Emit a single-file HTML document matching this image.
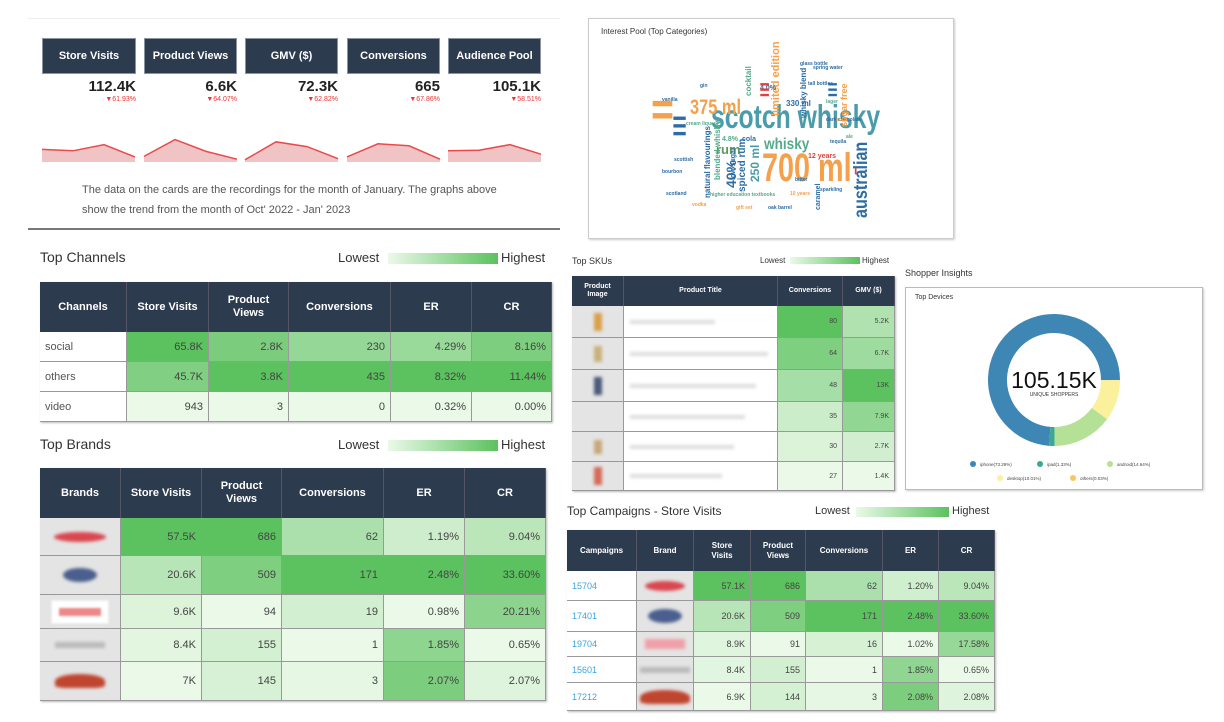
<!DOCTYPE html>
<html><head><meta charset="utf-8">
<style>
body{margin:0;width:1224px;height:722px;background:#fff;position:relative;overflow:hidden;font-family:"Liberation Sans",sans-serif;color:#333}
.a{position:absolute}
.card{position:absolute;background:#2c3b4e;color:#fff;font-weight:bold;font-size:11px;display:flex;align-items:center;justify-content:center;border:1px solid #8a94a0;box-sizing:border-box}
.val{position:absolute;font-weight:bold;font-size:15px;color:#222;text-align:right}
.pct{position:absolute;font-size:7px;color:#e33;text-align:right}
.ttl{position:absolute;color:#333}
.cell{position:absolute;box-sizing:border-box;display:flex;align-items:center;overflow:hidden}
.hd{background:#2c3b4e;color:#fff;font-weight:bold;justify-content:center;text-align:center;border-right:1px solid #556;line-height:1.15}
.bd{border-right:1px solid #999;border-bottom:1px solid #999;justify-content:flex-end;padding-right:5px;color:#444}
.grad{position:absolute;background:linear-gradient(to right,#eaf9e8,#5cc15f)}
.w{position:absolute;font-weight:bold;white-space:nowrap;transform-origin:0 0;line-height:1}
</style></head><body>

<div class="a" style="left:28px;top:18px;width:532px;height:1px;background:#eee"></div>
<div class="card" style="left:42px;top:38px;width:94px;height:36px">Store Visits</div>
<div class="card" style="left:144px;top:38px;width:93px;height:36px">Product Views</div>
<div class="card" style="left:245px;top:38px;width:93px;height:36px">GMV ($)</div>
<div class="card" style="left:347px;top:38px;width:93px;height:36px">Conversions</div>
<div class="card" style="left:448px;top:38px;width:93px;height:36px">Audience Pool</div>

<div class="val" style="left:42px;top:78px;width:94px">112.4K</div>
<div class="val" style="left:144px;top:78px;width:93px">6.6K</div>
<div class="val" style="left:245px;top:78px;width:93px">72.3K</div>
<div class="val" style="left:347px;top:78px;width:93px">665</div>
<div class="val" style="left:448px;top:78px;width:93px">105.1K</div>
<div class="pct" style="left:42px;top:96px;width:94px">▼61.93%</div>
<div class="pct" style="left:144px;top:96px;width:93px">▼64.07%</div>
<div class="pct" style="left:245px;top:96px;width:93px">▼62.82%</div>
<div class="pct" style="left:347px;top:96px;width:93px">▼67.86%</div>
<div class="pct" style="left:448px;top:96px;width:93px">▼58.51%</div>

<svg class="a" id="spark" style="left:0;top:0" width="560" height="170"></svg>

<div class="a" style="left:82px;top:180px;width:440px;font-size:11px;line-height:20px;color:#555">The data on the cards are the recordings for the month of January. The graphs above show the trend from the month of Oct' 2022 - Jan' 2023</div>
<div class="a" style="left:28px;top:228px;width:532px;height:2px;background:#777"></div>

<!-- Top Channels -->
<div class="ttl" style="left:40px;top:249px;font-size:14px">Top Channels</div>
<div class="ttl" style="left:338px;top:250px;font-size:13px">Lowest</div>
<div class="grad" style="left:388px;top:253px;width:110px;height:11px"></div>
<div class="ttl" style="left:501px;top:250px;font-size:13px">Highest</div>

<div class="ttl" style="left:40px;top:436px;font-size:14px">Top Brands</div>
<div class="ttl" style="left:338px;top:437px;font-size:13px">Lowest</div>
<div class="grad" style="left:388px;top:440px;width:110px;height:11px"></div>
<div class="ttl" style="left:501px;top:437px;font-size:13px">Highest</div>

<!-- Word cloud -->
<div class="a" style="left:588px;top:18px;width:366px;height:221px;border:1px solid #ccc;box-sizing:border-box;box-shadow:1px 1px 2px #ccc"></div>
<div class="ttl" style="left:601px;top:27px;font-size:8px">Interest Pool (Top Categories)</div>
<div id="cloud">
<div class="w" style="left:711px;top:100px;font-size:33px;color:#4a9cab;transform:scaleX(.75)">scotch whisky</div>
<div class="w" style="left:762px;top:148px;font-size:40px;color:#f5a04a;transform:scaleX(.72)">700 ml</div>
<div class="w" style="left:690px;top:97px;font-size:21px;color:#f5a04a;transform:scaleX(.78)">375 ml</div>
<div class="w" style="left:764px;top:137px;font-size:16px;color:#55aa8c;transform:scaleX(.85)">whisky</div>
<div class="w" style="left:716px;top:143px;font-size:13px;color:#5a9a5e">rum</div>
<div class="w" style="left:852px;top:218px;font-size:19px;color:#2d6da3;transform:rotate(-90deg) scaleX(.85)">australian</div>
<div class="w" style="left:771px;top:116px;font-size:11px;color:#f5a04a;transform:rotate(-90deg)">limited edition</div>
<div class="w" style="left:724px;top:188px;font-size:14px;color:#2d6da3;transform:rotate(-90deg)">40%</div>
<div class="w" style="left:749px;top:182px;font-size:12px;color:#4a9cab;transform:rotate(-90deg)">250 ml</div>
<div class="w" style="left:738px;top:192px;font-size:10px;color:#2d6da3;transform:rotate(-90deg)">spiced rum</div>
<div class="w" style="left:704px;top:198px;font-size:8px;color:#2d6da3;transform:rotate(-90deg)">natural flavourings</div>
<div class="w" style="left:714px;top:180px;font-size:8px;color:#55aa8c;transform:rotate(-90deg)">blended whisky</div>
<div class="w" style="left:730px;top:180px;font-size:7px;color:#2d6da3;transform:rotate(-90deg)">low sugar</div>
<div class="w" style="left:786px;top:100px;font-size:8px;color:#2d6da3">330 ml</div>
<div class="w" style="left:808px;top:153px;font-size:7px;color:#e04040">12 years</div>
<div class="w" style="left:722px;top:136px;font-size:7px;color:#55aa8c">4.8%</div>
<div class="w" style="left:742px;top:136px;font-size:7px;color:#2d6da3">cola</div>
<div class="w" style="left:760px;top:85px;font-size:7px;color:#2d6da3">4.0%</div>
<div class="w" style="left:710px;top:193px;font-size:5px;color:#55aa8c">higher education textbooks</div>
<div class="w" style="left:686px;top:122px;font-size:5px;color:#55aa8c">cream liqueur</div>
<div class="w" style="left:662px;top:98px;font-size:5px;color:#2d6da3">vanilla</div>
<div class="w" style="left:666px;top:192px;font-size:5px;color:#2d6da3">scotland</div>
<div class="w" style="left:674px;top:158px;font-size:5px;color:#2d6da3">scottish</div>
<div class="w" style="left:826px;top:118px;font-size:5px;color:#2d6da3">dark chocolate</div>
<div class="w" style="left:836px;top:118px;font-size:5px;color:#f5a04a">soda</div>
<div class="w" style="left:820px;top:188px;font-size:5px;color:#2d6da3">sparkling</div>
<div class="w" style="left:795px;top:178px;font-size:5px;color:#2d6da3">bitter</div>
<div class="w" style="left:736px;top:206px;font-size:5px;color:#f5a04a">gift set</div>
<div class="w" style="left:768px;top:206px;font-size:5px;color:#2d6da3">oak barrel</div>
<div class="w" style="left:800px;top:62px;font-size:5px;color:#2d6da3">glass bottle</div>
<div class="w" style="left:830px;top:140px;font-size:5px;color:#2d6da3">tequila</div>
<div class="w" style="left:790px;top:192px;font-size:5px;color:#f5a04a">10 years</div>
<div class="w" style="left:700px;top:84px;font-size:5px;color:#2d6da3">gin</div>
<div class="w" style="left:846px;top:135px;font-size:5px;color:#55aa8c">ale</div>
<div class="w" style="left:826px;top:100px;font-size:5px;color:#55aa8c">lager</div>
<div class="w" style="left:662px;top:170px;font-size:5px;color:#2d6da3">bourbon</div>
<div class="w" style="left:692px;top:203px;font-size:5px;color:#f5a04a">vodka</div>
<div class="w" style="left:813px;top:66px;font-size:5px;color:#2d6da3">spring water</div>
<div class="w" style="left:808px;top:82px;font-size:5px;color:#2d6da3">tall bottles</div>
<div class="w" style="left:855px;top:170px;font-size:5px;color:#e04040">▍</div>
<div class="w" style="left:656px;top:118px;font-size:16px;color:#f5a04a;transform:rotate(-90deg)">▍▍</div>
<div class="w" style="left:676px;top:135px;font-size:10px;color:#2d6da3;transform:rotate(-90deg)">▍▍▍</div>
<div class="w" style="left:840px;top:127px;font-size:9px;color:#f5a04a;transform:rotate(-90deg)">sugar free</div>
<div class="w" style="left:800px;top:118px;font-size:8px;color:#2d6da3;transform:rotate(-90deg)">whisky blend</div>
<div class="w" style="left:815px;top:210px;font-size:7px;color:#2d6da3;transform:rotate(-90deg)">caramel</div>
<div class="w" style="left:762px;top:96px;font-size:7px;color:#e04040;transform:rotate(-90deg)">▍▍▍</div>
<div class="w" style="left:745px;top:96px;font-size:8px;color:#55aa8c;transform:rotate(-90deg)">cocktail</div>
<div class="w" style="left:830px;top:96px;font-size:7px;color:#2d6da3;transform:rotate(-90deg)">▍▍▍</div>
</div>

<!-- Top SKUs -->
<div class="ttl" style="left:572px;top:256px;font-size:9px">Top SKUs</div>
<div class="ttl" style="left:760px;top:256px;font-size:8px">Lowest</div>
<div class="grad" style="left:790px;top:257px;width:70px;height:7px"></div>
<div class="ttl" style="left:862px;top:256px;font-size:8px">Highest</div>

<!-- Shopper insights -->
<div class="ttl" style="left:905px;top:268px;font-size:9px">Shopper Insights</div>
<div class="a" style="left:905px;top:287px;width:298px;height:203px;border:1px solid #bbb;box-sizing:border-box;box-shadow:1px 1px 2px #ccc"></div>
<div class="ttl" style="left:915px;top:294px;font-size:7px">Top Devices</div>
<svg class="a" id="donut" style="left:905px;top:287px" width="298" height="203"></svg>

<!-- Campaigns -->
<div class="ttl" style="left:567px;top:504px;font-size:12px">Top Campaigns - Store Visits</div>
<div class="ttl" style="left:815px;top:505px;font-size:11px">Lowest</div>
<div class="grad" style="left:856px;top:507px;width:93px;height:10px"></div>
<div class="ttl" style="left:952px;top:505px;font-size:11px">Highest</div>

<div id="tables"></div>

<script>
// ---- sparkline data (Oct-Jan) ----
const sparkStoreVisits=[45,40,62,18];
const sparkProductViews=[20,80,38,10];
const sparkGMV=[8,72,55,12];
const sparkConversions=[18,65,58,10];
const sparkAudience=[40,42,62,28];

// ---- channels ----
const chNames=['social','others','video'];
const chSV=[65.8,45.7,0.943], chSVt=['65.8K','45.7K','943'];
const chPV=[2.8,3.8,0.003], chPVt=['2.8K','3.8K','3'];
const chConv=[230,435,0], chConvt=['230','435','0'];
const chER=[4.29,8.32,0.32], chERt=['4.29%','8.32%','0.32%'];
const chCR=[8.16,11.44,0], chCRt=['8.16%','11.44%','0.00%'];

// ---- brands ----
const brSV=[57.5,20.6,9.6,8.4,7], brSVt=['57.5K','20.6K','9.6K','8.4K','7K'];
const brPV=[686,509,94,155,145], brPVt=['686','509','94','155','145'];
const brConv=[62,171,19,1,3], brConvt=['62','171','19','1','3'];
const brER=[1.19,2.48,0.98,1.85,2.07], brERt=['1.19%','2.48%','0.98%','1.85%','2.07%'];
const brCR=[9.04,33.6,20.21,0.65,2.07], brCRt=['9.04%','33.60%','20.21%','0.65%','2.07%'];

// ---- SKUs ----
const skuConv=[80,64,48,35,30,27], skuConvt=['80','64','48','35','30','27'];
const skuGMV=[5.2,6.7,13,7.9,2.7,1.4], skuGMVt=['5.2K','6.7K','13K','7.9K','2.7K','1.4K'];

// ---- campaigns ----
const cpIds=['15704','17401','19704','15601','17212'];
const cpSV=[57.1,20.6,8.9,8.4,6.9], cpSVt=['57.1K','20.6K','8.9K','8.4K','6.9K'];
const cpPV=[686,509,91,155,144], cpPVt=['686','509','91','155','144'];
const cpConv=[62,171,16,1,3], cpConvt=['62','171','16','1','3'];
const cpER=[1.20,2.48,1.02,1.85,2.08], cpERt=['1.20%','2.48%','1.02%','1.85%','2.08%'];
const cpCR=[9.04,33.60,17.58,0.65,2.08], cpCRt=['9.04%','33.60%','17.58%','0.65%','2.08%'];

// ---- devices ----
const devLabels=['iphone','ipad','android','desktop','others'];
const devValues=[73.29,1.33,14.64,10.01,0.03];
const devColors=['#3e87b5','#3aa897','#b5e197','#fbf19c','#fbc463'];

const NS='http://www.w3.org/2000/svg';
// sparklines
(function(){
  const svg=document.getElementById('spark');
  const series=[sparkStoreVisits,sparkProductViews,sparkGMV,sparkConversions,sparkAudience];
  const lefts=[42,144,245,347,448], w=93, bottom=162, top=134;
  const y=v=>bottom-(v/100)*(bottom-top)*1.0;
  series.forEach((s,i)=>{
    const x=j=>lefts[i]+j*(w/(s.length-1));
    const pts=s.map((v,j)=>x(j)+','+y(v)).join(' ');
    const poly=document.createElementNS(NS,'polygon');
    poly.setAttribute('points',pts+' '+x(s.length-1)+','+bottom+' '+x(0)+','+bottom);
    poly.setAttribute('fill','#f0c4c4');
    
    
    svg.appendChild(poly);
    const pl=document.createElementNS(NS,'polyline');
    pl.setAttribute('points',pts);pl.setAttribute('fill','none');pl.setAttribute('stroke','#e84b4b');pl.setAttribute('stroke-width','1.5');
    
    
    svg.appendChild(pl);
  });
})();

function heat(vals,v){
  const mn=Math.min(...vals),mx=Math.max(...vals);
  let t=mx===mn?0:(v-mn)/(mx-mn); t=Math.pow(t,0.8);
  const a=[234,249,232],b=[92,193,95];
  return 'rgb('+a.map((c,i)=>Math.round(c+(b[i]-c)*t)).join(',')+')';
}
const host=document.getElementById('tables');
function cell(x,y,w,h,cls,txt,fs,bg,color){
  const d=document.createElement('div');
  d.className='cell '+cls;
  d.style.cssText='left:'+x+'px;top:'+y+'px;width:'+w+'px;height:'+h+'px;font-size:'+fs+'px;'+(bg?'background:'+bg+';':'')+(color?'color:'+color+';':'');
  d.innerHTML=txt;
  host.appendChild(d);return d;
}
// generic table: cols boundaries, rows boundaries (first = header top), headers, columns spec
function table(name,cols,rows,headers,hfs,bfs,colSpec){
  const o=document.createElement('div');
  o.className='a';o.style.cssText='left:'+cols[0]+'px;top:'+rows[0]+'px;width:'+(cols[cols.length-1]-cols[0])+'px;height:'+(rows[rows.length-1]-rows[0])+'px;border:1px solid #999;box-sizing:border-box;box-shadow:1px 1px 2px #bbb';
  
  
  host.appendChild(o);
  headers.forEach((h,i)=>{
    const d=cell(cols[i],rows[0],cols[i+1]-cols[i],rows[1]-rows[0],'hd',h,hfs);
    
    
  });
  colSpec.forEach((c,i)=>{
    for(let r=0;r<rows.length-2;r++){
      const x=cols[i],y=rows[r+1],w=cols[i+1]-x,h=rows[r+2]-y;
      let d;
      if(c.type==='num'){d=cell(x,y,w,h,'bd',c.text[r],bfs,heat(c.vals,c.vals[r]));}
      else if(c.type==='label'){d=cell(x,y,w,h,'bd',c.text[r],bfs,'#fff',c.color||'#555');d.style.justifyContent='flex-start';d.style.paddingLeft='5px';}
      else if(c.type==='img'){d=cell(x,y,w,h,'bd','',bfs,'#e4e4e4');d.style.justifyContent='center';d.style.paddingRight='0';
        const s=document.createElement('div');s.style.cssText=c.style[r];d.appendChild(s);}
      else if(c.type==='blur'){d=cell(x,y,w,h,'bd','',bfs,'#fff');d.style.justifyContent='flex-start';d.style.paddingLeft='6px';
        const s=document.createElement('div');s.style.cssText='width:'+(60+((r*37)%45))+'%;height:4px;background:#ddd;filter:blur(1.5px)';d.appendChild(s);}
      
      
    }
  });
}
const logoStyles=[
 'width:52px;height:10px;border-radius:50%;background:#d9474f;filter:blur(1.5px)',
 'width:34px;height:14px;border-radius:50%;background:#4a5f8e;filter:blur(1.5px)',
 'width:56px;height:22px;background:#fff;border:1px solid #eee;box-shadow:inset 0 0 0 7px #fff,inset 0 0 0 12px #e88;filter:blur(1px)',
 'width:50px;height:6px;background:#bbb;filter:blur(1.5px)',
 'width:50px;height:14px;border-radius:50% 50% 20% 20%;background:#c0452f;filter:blur(1.5px)'];
table('channels-table',[40,127,209,289,391,472,552],[282,332,362,392,422],
 ['Channels','Store Visits','Product<br>Views','Conversions','ER','CR'],11,11,
 [{type:'label',text:chNames},{type:'num',vals:chSV,text:chSVt},{type:'num',vals:chPV,text:chPVt},{type:'num',vals:chConv,text:chConvt},{type:'num',vals:chER,text:chERt},{type:'num',vals:chCR,text:chCRt}]);
table('brands-table',[40,121,202,282,384,465,546],[468,518,556,595,629,662,701],
 ['Brands','Store Visits','Product<br>Views','Conversions','ER','CR'],11,11,
 [{type:'img',style:logoStyles},{type:'num',vals:brSV,text:brSVt},{type:'num',vals:brPV,text:brPVt},{type:'num',vals:brConv,text:brConvt},{type:'num',vals:brER,text:brERt},{type:'num',vals:brCR,text:brCRt}]);
const skuImgs=['width:8px;height:18px;background:#d9a04a;filter:blur(1.5px)','width:8px;height:16px;background:#c9b27a;filter:blur(1.5px)','width:8px;height:18px;background:#4a5a7a;filter:blur(1.5px)','width:8px;height:8px;background:#e4e4e4','width:8px;height:14px;background:#c8a878;filter:blur(1.5px)','width:8px;height:18px;background:#d46a5a;filter:blur(1.5px)'];
table('skus-table',[572,624,778,843,895],[276,306,338,370,402,432,462,491],
 ['Product<br>Image','Product Title','Conversions','GMV ($)'],7,7,
 [{type:'img',style:skuImgs},{type:'blur'},{type:'num',vals:skuConv,text:skuConvt},{type:'num',vals:skuGMV,text:skuGMVt}]);
const cpLogos=logoStyles.map((s,i)=>i===2?'width:40px;height:10px;background:#f0a0a8;filter:blur(1.5px)':s.replace('52px','40px').replace('56px','40px'));
table('campaigns-table',[567,637,694,751,806,883,939,995],[530,571,601,632,657,683,711],
 ['Campaigns','Brand','Store<br>Visits','Product<br>Views','Conversions','ER','CR'],8,9,
 [{type:'label',text:cpIds,color:'#3aa5e0'},{type:'img',style:cpLogos},{type:'num',vals:cpSV,text:cpSVt},{type:'num',vals:cpPV,text:cpPVt},{type:'num',vals:cpConv,text:cpConvt},{type:'num',vals:cpER,text:cpERt},{type:'num',vals:cpCR,text:cpCRt}]);

// donut
(function(){
  const svg=document.getElementById('donut');
  const cx=149,cy=93,R=66,r=47;
  const total=devValues.reduce((a,b)=>a+b,0);
  let ang=0;
  devValues.forEach((v,i)=>{
    const a0=ang,a1=ang+v/total*Math.PI*2;ang=a1;
    // counter-clockwise from 3 o'clock
    const p=(a,rad)=>[cx+rad*Math.cos(a),cy-rad*Math.sin(a)];
    const large=(a1-a0)>Math.PI?1:0;
    const [x0,y0]=p(a0,R),[x1,y1]=p(a1,R),[x2,y2]=p(a1,r),[x3,y3]=p(a0,r);
    const path=document.createElementNS(NS,'path');
    path.setAttribute('d','M'+x0+' '+y0+' A'+R+' '+R+' 0 '+large+' 0 '+x1+' '+y1+' L'+x2+' '+y2+' A'+r+' '+r+' 0 '+large+' 1 '+x3+' '+y3+'Z');
    path.setAttribute('fill',devColors[i]);
    
    
    svg.appendChild(path);
  });
  const t=document.createElementNS(NS,'text');
  t.setAttribute('x',cx);t.setAttribute('y',cy+8);t.setAttribute('text-anchor','middle');t.setAttribute('font-size','23');t.setAttribute('fill','#111');t.setAttribute('font-family','Liberation Sans');
  t.textContent='105.15K';
  
  
  svg.appendChild(t);
  const t2=document.createElementNS(NS,'text');
  t2.setAttribute('x',cx);t2.setAttribute('y',cy+16);t2.setAttribute('text-anchor','middle');t2.setAttribute('font-size','5');t2.setAttribute('fill','#333');t2.setAttribute('font-family','Liberation Sans');
  t2.textContent='UNIQUE SHOPPERS';
  
  
  svg.appendChild(t2);
  const lx=[68,135,205,95,168],ly=[177,177,177,191,191];
  devLabels.forEach((l,i)=>{
    const c=document.createElementNS(NS,'circle');
    c.setAttribute('cx',lx[i]);c.setAttribute('cy',ly[i]);c.setAttribute('r','3');c.setAttribute('fill',devColors[i]);
    
    
    svg.appendChild(c);
    const tx=document.createElementNS(NS,'text');
    tx.setAttribute('x',lx[i]+7);tx.setAttribute('y',ly[i]+2);tx.setAttribute('font-size','4.5');tx.setAttribute('fill','#444');tx.setAttribute('font-family','Liberation Sans');
    tx.textContent=l+'('+devValues[i].toFixed(2)+'%)';
    
    
    svg.appendChild(tx);
  });
})();
</script>
</body></html>
